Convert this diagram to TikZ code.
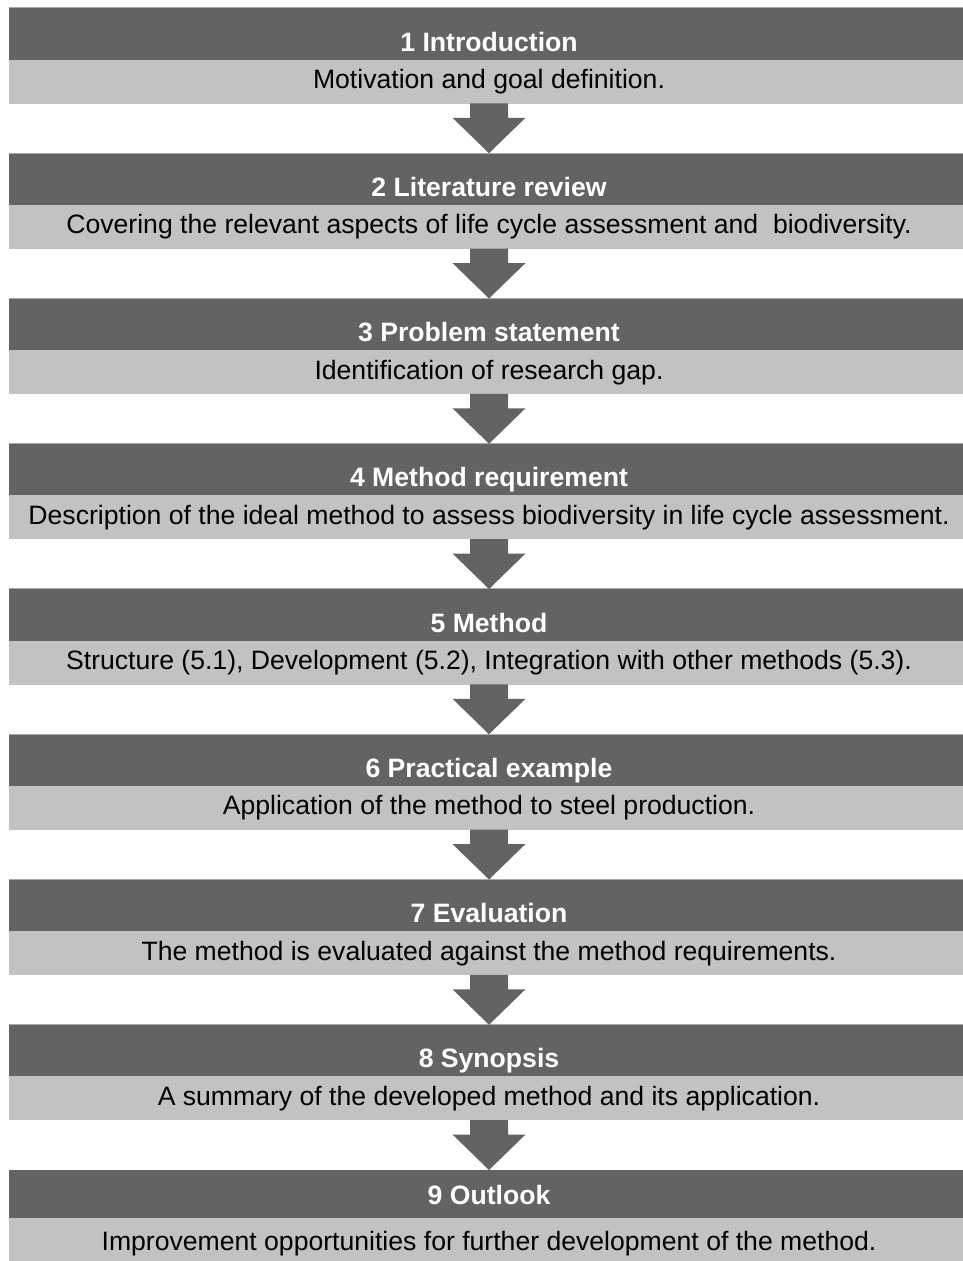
\documentclass[tikz,border=0pt]{standalone}
\usepackage{fontspec}
\setmainfont{Liberation Sans}
\usetikzlibrary{calc}

\definecolor{headgray}{HTML}{636363}
\definecolor{bodygray}{HTML}{C2C2C2}
\definecolor{edgegray}{HTML}{A8A8A8}

\tikzset{
  head/.style={rectangle, fill=headgray, text=white, inner sep=0pt,
    minimum width=960pt, minimum height=52pt,
    text height=40pt, text depth=6pt, anchor=north,
    font=\fontsize{26.6}{31}\selectfont\bfseries},
  body/.style={rectangle, fill=bodygray, text=black, inner sep=0pt,
    minimum width=960pt, minimum height=44pt,
    text height=24pt, text depth=10pt, anchor=north,
    font=\fontsize{26.6}{31}\selectfont},
  topedge/.style={draw=edgegray, line width=1pt},
  blockarrow/.style={fill=headgray},
}

% block arrow from the bottom of one box to the top of the next
\newcommand{\stagearrow}[2]{%
  \fill[blockarrow] ($(#1.south)+(-19,0.5)$) -- ($(#1.south)+(19,0.5)$)
    -- ($(#1.south)+(19,-14)$) -- ($(#1.south)+(36.5,-14)$)
    -- (#2.north)
    -- ($(#1.south)+(-36.5,-14)$) -- ($(#1.south)+(-19,-14)$) -- cycle;}

\begin{document}
\begin{tikzpicture}[x=1pt,y=1pt]
\useasboundingbox (0,0) rectangle (962,1261);

% each stage: dark title band, lighter description band overlapping it by 1pt
\node[head] (h1) at (489,1253) {1 Introduction};
\node[body] (b1) at ([yshift=1pt]h1.south) {Motivation and goal definition.};

\node[head] (h2) at (489,1107.75) {2 Literature review};
\node[body] (b2) at ([yshift=1pt]h2.south) {Covering the relevant aspects of life cycle assessment and~ biodiversity.};

\node[head] (h3) at (489,962.5) {3 Problem statement};
\node[body] (b3) at ([yshift=1pt]h3.south) {Identification of research gap.};

\node[head] (h4) at (489,817.25) {4 Method requirement};
\node[body] (b4) at ([yshift=1pt]h4.south) {Description of the ideal method to assess biodiversity in life cycle assessment.};

\node[head] (h5) at (489,672) {5 Method};
\node[body] (b5) at ([yshift=1pt]h5.south) {Structure (5.1), Development (5.2), Integration with other methods (5.3).};

\node[head] (h6) at (489,526.75) {6 Practical example};
\node[body] (b6) at ([yshift=1pt]h6.south) {Application of the method to steel production.};

\node[head] (h7) at (489,381.5) {7 Evaluation};
\node[body] (b7) at ([yshift=1pt]h7.south) {The method is evaluated against the method requirements.};

\node[head] (h8) at (489,236.25) {8 Synopsis};
\node[body] (b8) at ([yshift=1pt]h8.south) {A summary of the developed method and its application.};

\node[head, minimum height=48pt, text height=30pt, text depth=9.4pt] (h9) at (489,91) {9 Outlook};
\node[body, text height=28pt, text depth=6.6pt] (b9) at ([yshift=1pt]h9.south) {Improvement opportunities for further development of the method.};

% thin lighter rule along the top of each title band
\foreach \n in {1,...,8}
  \draw[topedge] (h\n.north west) -- (h\n.north east);

% arrows between consecutive stages
\stagearrow{b1}{h2}
\stagearrow{b2}{h3}
\stagearrow{b3}{h4}
\stagearrow{b4}{h5}
\stagearrow{b5}{h6}
\stagearrow{b6}{h7}
\stagearrow{b7}{h8}
\stagearrow{b8}{h9}
\end{tikzpicture}
\end{document}
